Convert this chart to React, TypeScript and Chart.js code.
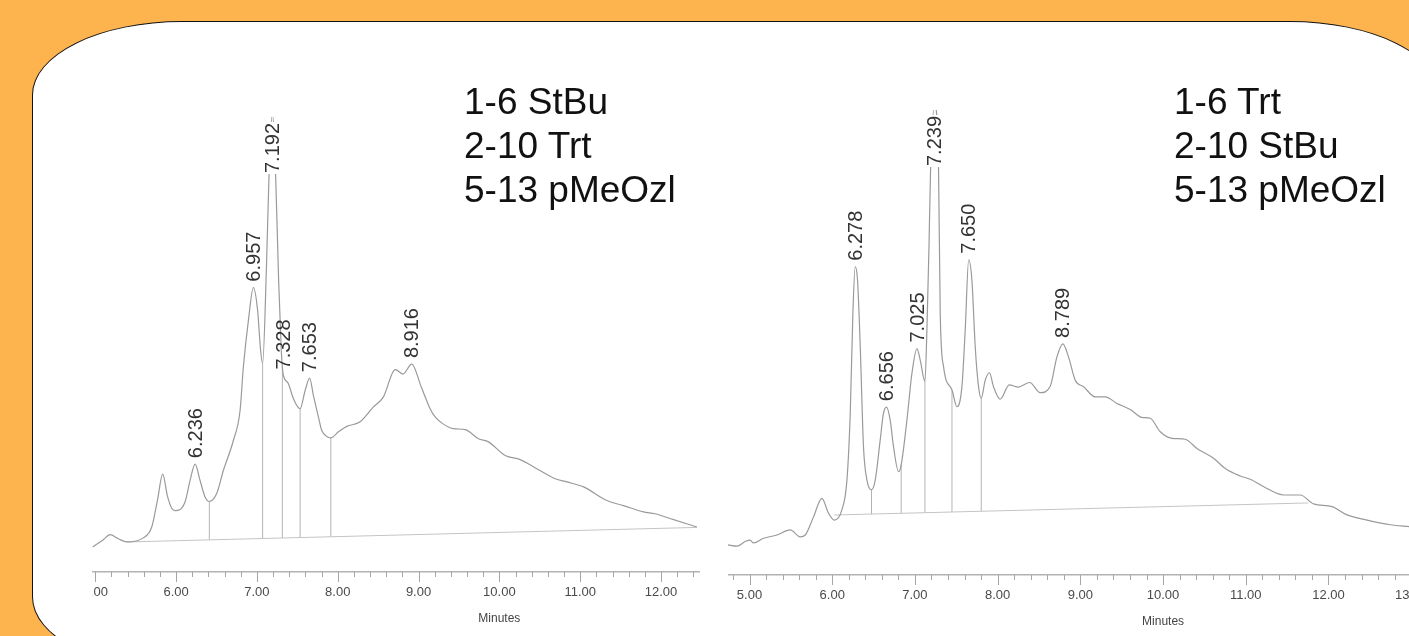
import React, { useEffect, useRef } from "react";
import { Chart, registerables } from "chart.js";

Chart.register(...registerables);

const FONT = "'Liberation Sans', Arial, Helvetica, sans-serif";

// ---- Run 1: 1-6 StBu / 2-10 Trt / 5-13 pMeOzl ----
const LEFT_TIME = [
  4.969, 5.1, 5.183, 5.286, 5.39, 5.595, 5.699, 5.769, 5.835, 5.892, 5.947, 5.988,
  6.111, 6.173, 6.236, 6.297, 6.359, 6.412, 6.504, 6.585, 6.709, 6.792, 6.833, 6.895,
  6.957, 7.009, 7.046, 7.071, 7.12, 7.151, 7.192, 7.231, 7.269, 7.3, 7.315, 7.328,
  7.39, 7.452, 7.535, 7.597, 7.653, 7.699, 7.761, 7.803, 7.865, 7.915, 8.009, 8.113,
  8.277, 8.442, 8.566, 8.711, 8.807, 8.916, 9.033, 9.143, 9.205, 9.308, 9.432, 9.577,
  9.741, 9.865, 10.072, 10.257, 10.464, 10.691, 10.835, 11.041, 11.33, 11.536, 11.783,
  11.928, 12.155, 12.444,
];
const LEFT_SIGNAL = [
  5.5, 7.1, 8.2, 7.3, 6.6, 7.5, 9.9, 15.7, 21.5, 16.8, 14.0, 13.5,
  15.4, 20.1, 23.7, 20.1, 16.5, 15.5, 17.3, 22.3, 28.9, 35.5, 45.1, 55.3,
  62.5, 57.5, 48.7, 45.8, 68.0, 87.7, 101, 87.7, 64.1, 49.5, 45.0, 43.2,
  41.4, 38.1, 35.9, 39.9, 42.6, 38.8, 34.1, 31.1, 29.8, 29.5, 30.8, 32.0,
  33.0, 36.3, 38.5, 44.5, 43.5, 45.7, 40.7, 35.9, 34.1, 32.5, 31.5, 31.3,
  29.3, 28.6, 25.6, 24.7, 22.7, 20.5, 19.8, 18.7, 15.7, 14.6, 13.2,
  12.8, 11.5, 9.9,
];
const LEFT_PEAKS = [6.236, 6.957, 7.192, 7.328, 7.653, 8.916];
const LEFT_DROPS = [6.412, 7.071, 7.315, 7.535, 7.915];
const LEFT_BASE_TIME = [5.39, 12.444];
const LEFT_BASE_SIGNAL = [6.6, 9.8];
const LEFT_TICKS = [5, 6, 7, 8, 9, 10, 11, 12];
const LEFT_LEGEND = ["1-6 StBu", "2-10 Trt", "5-13 pMeOzl"];

// ---- Run 2: 1-6 Trt / 2-10 StBu / 5-13 pMeOzl ----
const RIGHT_TIME = [
  4.734, 4.848, 4.948, 5.008, 5.048, 5.169, 5.331, 5.492, 5.613, 5.674, 5.774, 5.875,
  5.955, 6.024, 6.117, 6.178, 6.218, 6.25, 6.278, 6.306, 6.339, 6.378, 6.42, 6.475,
  6.52, 6.58, 6.62, 6.656, 6.701, 6.741, 6.802, 6.834, 6.903, 6.964, 7.025, 7.064,
  7.121, 7.145, 7.17, 7.19, 7.239, 7.285, 7.306, 7.346, 7.448, 7.508, 7.568, 7.608,
  7.65, 7.689, 7.729, 7.769, 7.802, 7.85, 7.902, 7.95, 8.031, 8.14, 8.249, 8.388,
  8.515, 8.636, 8.717, 8.789, 8.857, 8.938, 9.039, 9.18, 9.301, 9.443, 9.603, 9.745,
  9.845, 9.966, 10.108, 10.268, 10.41, 10.611, 10.752, 10.933, 11.054, 11.256, 11.457,
  11.659, 11.82, 12.042, 12.203, 12.466, 12.747, 12.977,
];
const RIGHT_SIGNAL = [
  6.5, 6.2, 7.2, 7.5, 6.9, 7.9, 8.6, 9.7, 8.2, 8.6, 12.5, 16.5,
  13.3, 11.8, 14.0, 20.4, 34.8, 56.3, 66.3, 63.4, 49.1, 27.6, 20.4, 18.3,
  20.4, 29.0, 34.8, 36.1, 33.3, 27.6, 22.2, 23.7, 33.3, 43.4, 48.7, 46.2,
  41.6, 52.7, 70.6, 87.8, 101, 87.8, 56.3, 44.8, 39.8, 36.2, 40.5, 52.7,
  67.8, 63.4, 49.1, 40.5, 38.0, 41.9, 43.5, 40.5, 37.8, 40.9, 40.4, 41.4,
  39.2, 40.6, 46.9, 49.7, 46.9, 41.9, 40.5, 38.3, 38.3, 36.9, 35.6, 33.9,
  33.7, 30.8, 29.4, 29.2, 27.2, 25.1, 22.9, 21.3, 20.6, 18.6, 17.2,
  17.2, 15.3, 14.7, 13.1, 11.8, 10.8, 10.4,
];
const RIGHT_PEAKS = [6.278, 6.656, 7.025, 7.239, 7.65, 8.789];
const RIGHT_DROPS = [6.475, 6.834, 7.121, 7.448, 7.802];
const RIGHT_BASE_TIME = [6.024, 11.756];
const RIGHT_BASE_SIGNAL = [12.9, 15.5];
const RIGHT_TICKS = [5, 6, 7, 8, 9, 10, 11, 12, 13];
const RIGHT_LEGEND = ["1-6 Trt", "2-10 StBu", "5-13 pMeOzl"];

type Run = {
  time: number[];
  signal: number[];
  peaks: number[];
  drops: number[];
  baseTime: number[];
  baseSignal: number[];
  ticks: number[];
  xMin: number;
  xMax: number;
};

const LEFT_RUN: Run = {
  time: LEFT_TIME,
  signal: LEFT_SIGNAL,
  peaks: LEFT_PEAKS,
  drops: LEFT_DROPS,
  baseTime: LEFT_BASE_TIME,
  baseSignal: LEFT_BASE_SIGNAL,
  ticks: LEFT_TICKS,
  xMin: 4.96,
  xMax: 12.47,
};

const RIGHT_RUN: Run = {
  time: RIGHT_TIME,
  signal: RIGHT_SIGNAL,
  peaks: RIGHT_PEAKS,
  drops: RIGHT_DROPS,
  baseTime: RIGHT_BASE_TIME,
  baseSignal: RIGHT_BASE_SIGNAL,
  ticks: RIGHT_TICKS,
  xMin: 4.74,
  xMax: 13.3,
};

function buildConfig(run: Run, padLeft: number, padRight: number): any {
  const valueAt = (t: number) => run.signal[run.time.indexOf(t)];
  const baseAt = (t: number) => {
    const [t0, t1] = run.baseTime;
    const [v0, v1] = run.baseSignal;
    return v0 + ((t - t0) / (t1 - t0)) * (v1 - v0);
  };

  const trace = run.time.map((t, i) => ({ x: t, y: run.signal[i] }));
  const baseline = run.baseTime.map((t, i) => ({ x: t, y: run.baseSignal[i] }));

  const datasets: any[] = [
    {
      data: trace,
      borderColor: "#9a9a9a",
      borderWidth: 1.2,
      pointRadius: 0,
      cubicInterpolationMode: "monotone",
    },
    {
      data: baseline,
      borderColor: "#c4c4c4",
      borderWidth: 1,
      pointRadius: 0,
    },
    ...run.drops.map((t) => ({
      data: [
        { x: t, y: baseAt(t) },
        { x: t, y: valueAt(t) },
      ],
      borderColor: "#b4b4b4",
      borderWidth: 1,
      pointRadius: 0,
    })),
  ];

  const decor = {
    id: "decor",
    afterDraw(chart: any) {
      const { ctx, chartArea } = chart;
      const x = chart.scales.x;
      const y = chart.scales.y;
      ctx.save();

      // major and minor tick marks under the time axis
      ctx.strokeStyle = "#a6a6a6";
      ctx.lineWidth = 1;
      const k0 = Math.ceil(x.min * 5 - 1e-9);
      const k1 = Math.floor(x.max * 5 + 1e-9);
      for (let k = k0; k <= k1; k++) {
        const major = k % 5 === 0;
        const px = Math.round(x.getPixelForValue(k / 5)) + 0.5;
        ctx.beginPath();
        ctx.moveTo(px, chartArea.bottom);
        ctx.lineTo(px, chartArea.bottom + (major ? 10 : 5));
        ctx.stroke();
      }

      // axis title
      ctx.fillStyle = "#444";
      ctx.font = `12px ${FONT}`;
      ctx.textAlign = "center";
      ctx.textBaseline = "middle";
      ctx.fillText("Minutes", x.getPixelForValue(10), chartArea.bottom + 47);

      // retention-time labels above each apex
      ctx.font = `20px ${FONT}`;
      for (const rt of run.peaks) {
        const label = rt.toFixed(3);
        const w = ctx.measureText(label).width;
        const px = x.getPixelForValue(rt);
        const py = y.getPixelForValue(valueAt(rt));
        let bottom = py - 6;
        let clipped = false;
        if (bottom - w < chartArea.top + 6) {
          bottom = chartArea.top + 6 + w;
          clipped = true;
        }
        ctx.save();
        ctx.translate(px, bottom);
        ctx.rotate(-Math.PI / 2);
        if (clipped) {
          ctx.fillStyle = "#fff";
          ctx.fillRect(-1, -9, w + 2, 19);
        }
        ctx.fillStyle = "#333";
        ctx.textAlign = "left";
        ctx.textBaseline = "middle";
        ctx.fillText(label, 0, 1);
        ctx.restore();
      }
      ctx.restore();
    },
  };

  return {
    type: "line",
    data: { datasets },
    plugins: [decor],
    options: {
      animation: false,
      responsive: false,
      devicePixelRatio: 1,
      events: [],
      layout: { padding: { left: padLeft, right: padRight, top: 0, bottom: 0 } },
      plugins: { legend: { display: false }, tooltip: { enabled: false } },
      scales: {
        x: {
          type: "linear",
          min: run.xMin,
          max: run.xMax,
          afterBuildTicks: (s: any) => {
            s.ticks = run.ticks.map((v) => ({ value: v }));
          },
          afterFit: (s: any) => {
            s.height = 60;
          },
          grid: { display: false, drawTicks: false },
          border: { display: true, color: "#b3b3b3", width: 1.5 },
          ticks: {
            padding: 13,
            autoSkip: false,
            maxRotation: 0,
            color: "#4a4a4a",
            font: { family: FONT, size: 13 },
            callback: (v: any) => Number(v).toFixed(2),
          },
        },
        y: { display: false, min: 0, max: 100 },
      },
    },
  };
}

function Chromatogram(props: {
  run: Run;
  clipLeft: number;
  clipWidth: number;
  top: number;
  height: number;
  padLeft: number;
  padRight: number;
  areaWidth: number;
}) {
  const ref = useRef<HTMLCanvasElement>(null);
  const { run, clipLeft, clipWidth, top, height, padLeft, padRight, areaWidth } = props;
  const width = padLeft + areaWidth + padRight;

  useEffect(() => {
    const chart = new Chart(ref.current as HTMLCanvasElement, buildConfig(run, padLeft, padRight));
    return () => chart.destroy();
  }, []);

  return (
    <div
      style={{
        position: "absolute",
        left: clipLeft,
        top: 0,
        width: clipWidth,
        height: 636,
        overflow: "hidden",
      }}
    >
      <canvas
        ref={ref}
        width={width}
        height={height}
        style={{ position: "absolute", left: -padLeft, top, width, height }}
      />
    </div>
  );
}

function Legend({ lines, left, top }: { lines: string[]; left: number; top: number }) {
  return (
    <div
      style={{
        position: "absolute",
        left,
        top,
        fontFamily: FONT,
        fontSize: 37,
        lineHeight: "44px",
        color: "#111",
        whiteSpace: "pre",
      }}
    >
      {lines.map((l) => (
        <div key={l}>{l}</div>
      ))}
    </div>
  );
}

export default function App() {
  return (
    <div
      style={{
        position: "fixed",
        left: 0,
        top: 0,
        width: 1409,
        height: 636,
        overflow: "hidden",
        background: "#FDB44E",
      }}
    >
      <div
        style={{
          position: "absolute",
          left: 32,
          top: 21,
          width: 1408,
          height: 650,
          boxSizing: "border-box",
          background: "#fff",
          border: "1.5px solid #111",
          borderRadius: "150px / 74px",
        }}
      />
      <Chromatogram
        run={LEFT_RUN}
        clipLeft={92}
        clipWidth={640}
        top={117}
        height={515}
        padLeft={30}
        padRight={30}
        areaWidth={607}
      />
      <Chromatogram
        run={RIGHT_RUN}
        clipLeft={728}
        clipWidth={700}
        top={110}
        height={525}
        padLeft={30}
        padRight={20}
        areaWidth={708}
      />
      <Legend lines={LEFT_LEGEND} left={464} top={80} />
      <Legend lines={RIGHT_LEGEND} left={1174} top={80} />
    </div>
  );
}
